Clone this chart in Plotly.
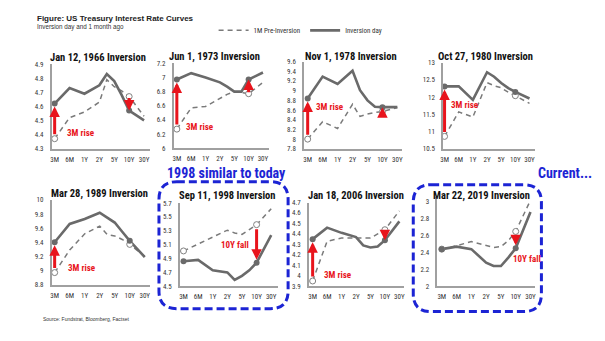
import plotly.graph_objects as go

W, H = 605, 341

# ---------------- data ----------------
TERMS = ["3M", "6M", "1Y", "2Y", "3Y", "5Y", "7Y", "10Y", "30Y"]
TERM_POS = [0, 1, 2, 3, 3.5, 4, 4.5, 5, 6]
TICK_TEXT = ["3M", "6M", "1Y", "2Y", "5Y", "10Y", "30Y"]
TICK_VALS = [0, 1, 2, 3, 4, 5, 6]

TITLES = ["Jan 12, 1966 Inversion", "Jun 1, 1973 Inversion", "Nov 1, 1978 Inversion",
          "Oct 27, 1980 Inversion", "Mar 28, 1989 Inversion", "Sep 11, 1998 Inversion",
          "Jan 18, 2006 Inversion", "Mar 22, 2019 Inversion"]

INV_1966 = [4.62, 4.73, 4.69, 4.75, 4.83, 4.78, 4.68, 4.57, 4.50]
PRE_1966 = [4.37, 4.52, 4.56, 4.63, 4.79, 4.74, 4.71, 4.67, 4.53]
INV_1973 = [6.97, 7.06, 7.00, 6.93, 6.87, 6.80, 6.80, 6.97, 7.07]
PRE_1973 = [6.27, 6.57, 6.59, 6.70, 6.76, 6.80, 6.78, 6.77, 6.93]
INV_1978 = [8.84, 9.29, 9.14, 9.41, 9.01, 8.80, 8.67, 8.66, 8.66]
PRE_1978 = [8.00, 8.36, 8.22, 8.72, 8.47, 8.52, 8.55, 8.57, 8.65]
INV_1980 = [12.31, 12.31, 11.92, 12.72, 12.59, 12.41, 12.26, 12.15, 11.96]
PRE_1980 = [10.86, 11.57, 11.42, 12.42, 12.33, 12.27, 12.14, 12.04, 11.82]
INV_1989 = [9.40, 9.66, 9.73, 9.82, 9.75, 9.68, 9.55, 9.42, 9.19]
PRE_1989 = [8.97, 9.29, 9.52, 9.63, 9.51, 9.49, 9.44, 9.37, 9.20]
INV_1998 = [4.86, 4.88, 4.73, 4.70, 4.59, 4.65, 4.73, 4.84, 5.24]
PRE_1998 = [5.01, 5.11, 5.20, 5.31, 5.27, 5.25, 5.32, 5.39, 5.62]
INV_2006 = [4.35, 4.46, 4.41, 4.37, 4.29, 4.27, 4.28, 4.34, 4.52]
PRE_2006 = [3.95, 4.33, 4.36, 4.36, 4.36, 4.36, 4.40, 4.44, 4.62]
INV_2019 = [2.44, 2.47, 2.44, 2.28, 2.24, 2.24, 2.34, 2.45, 2.88]
PRE_2019 = [2.44, 2.48, 2.53, 2.48, 2.46, 2.47, 2.54, 2.65, 3.02]

INV = [INV_1966, INV_1973, INV_1978, INV_1980, INV_1989, INV_1998, INV_2006, INV_2019]
PRE = [PRE_1966, PRE_1973, PRE_1978, PRE_1980, PRE_1989, PRE_1998, PRE_2006, PRE_2019]

Y_TICKS = [(4.3, 4.9, 0.1), (6.0, 7.2, 0.2), (7.8, 9.6, 0.2), (10.5, 13.0, 0.5),
           (8.8, 10.0, 0.2), (4.5, 5.7, 0.2), (3.9, 4.7, 0.1), (2.0, 3.0, 0.2)]
Y_TOP = [4.9, 7.2, 9.6, 13.0, 10.0, 5.7, 4.7, 3.06]

ARROW_TERMS = [["3M", "10Y"], ["3M", "10Y"], ["3M", "10Y"], ["3M", "10Y"],
               ["3M", "10Y"], ["10Y"], ["3M", "10Y"], ["10Y"]]
MARK_TERMS = ["3M", "10Y"]
ARROW_LABELS = ["3M rise", "3M rise", "3M rise", "3M rise", "3M rise",
                "10Y fall", "3M rise", "10Y fall"]

# ---------------- layout geometry (pixels) ----------------
GEOM = [
    dict(x0=52, x6=142, left=49, right=148, ylo_px=148, yhi_px=61.7),
    dict(x0=175, x6=261.7, left=171.7, right=268, ylo_px=147.7, yhi_px=60.7),
    dict(x0=306.7, x6=397, left=303, right=402, ylo_px=148.3, yhi_px=59),
    dict(x0=444.5, x6=530, left=443, right=536, ylo_px=148.3, yhi_px=60),
    dict(x0=52, x6=142.7, left=49, right=148, ylo_px=287.3, yhi_px=200.7),
    dict(x0=181.7, x6=270, left=178, right=277, ylo_px=289, yhi_px=204),
    dict(x0=311.7, x6=399, left=308, right=404, ylo_px=289, yhi_px=203.3),
    dict(x0=441.7, x6=531, left=437.3, right=536, ylo_px=289, yhi_px=202.7),
]
TITLE_POS = [(96, 55), (213, 54), (350, 54), (486, 54), (97.5, 194), (226, 196), (355, 196), (482, 196)]
LABEL_POS = [(0.67, 4.41, "left"), (0.48, 6.30, "left"), (0.42, 8.67, "left"), (0.28, 11.77, "left"),
             (0.73, 9.04, "left"), (4.65, 5.10, "right"), (0.64, 4.01, "left"), (4.68, 2.32, "left")]

NARROW = "Roboto Condensed, Liberation Sans Narrow, Arial Narrow, Liberation Sans, Arial, sans-serif"
ARIAL = "Liberation Sans, Arial, sans-serif"
RED = "#e8141c"
BLUE = "#1c24d4"
SOLID_C = "#6a6a6a"
DASH_C = "#7a7a7a"

fig = go.Figure()
layout = dict(width=W, height=H, margin=dict(l=0, r=0, t=0, b=0),
              paper_bgcolor="white", plot_bgcolor="white",
              font=dict(family=NARROW, color="#333"))
annotations = []
shapes = []

for i in range(8):
    n = i + 1
    xs = "" if n == 1 else str(n)
    xa, ya = "x" + xs, "y" + xs
    g = GEOM[i]
    lo, hi, dt = Y_TICKS[i]
    unit = (g["x6"] - g["x0"]) / 6.0
    xr = [(g["left"] - g["x0"]) / unit, (g["right"] - g["x0"]) / unit]
    ppu = (g["ylo_px"] - g["yhi_px"]) / (hi - lo)
    top_px = g["ylo_px"] - (Y_TOP[i] - lo) * ppu
    layout["xaxis" + xs] = dict(domain=[g["left"] / W, g["right"] / W], range=xr, anchor=ya,
                               tickvals=TICK_VALS, ticktext=TICK_TEXT, showline=True,
                               linecolor="#a0a0a0", linewidth=1.5, showgrid=False, zeroline=False,
                               ticks="", ticklabelstandoff=3, tickangle=0,
                               tickfont=dict(family=NARROW, size=7, color="#333"), fixedrange=True)
    layout["yaxis" + xs] = dict(domain=[1 - g["ylo_px"] / H, 1 - top_px / H], range=[lo, Y_TOP[i]],
                               anchor=xa, tick0=lo, dtick=dt, showline=True, linecolor="#a0a0a0",
                               linewidth=1.5, showgrid=False, zeroline=False, ticks="",
                               ticklabelstandoff=5,
                               tickfont=dict(family=NARROW, size=7, color="#333"), fixedrange=True)
    inv, pre = INV[i], PRE[i]
    fig.add_trace(go.Scatter(x=TERM_POS, y=pre, mode="lines", name="1M Pre-Inversion",
                             line=dict(color=DASH_C, width=1.5, dash="5px,4px"),
                             xaxis=xa, yaxis=ya, showlegend=(i == 0), legendgroup="pre"))
    fig.add_trace(go.Scatter(x=TERM_POS, y=inv, mode="lines", name="Inversion day",
                             line=dict(color=SOLID_C, width=2.6),
                             xaxis=xa, yaxis=ya, showlegend=(i == 0), legendgroup="inv"))
    idx = [TERMS.index(t) for t in MARK_TERMS]
    fig.add_trace(go.Scatter(x=[TERM_POS[j] for j in idx], y=[pre[j] for j in idx], mode="markers",
                             marker=dict(size=6, color="white", line=dict(color="#808080", width=1)),
                             xaxis=xa, yaxis=ya, showlegend=False, cliponaxis=False))
    fig.add_trace(go.Scatter(x=[TERM_POS[j] for j in idx], y=[inv[j] for j in idx], mode="markers",
                             marker=dict(size=6, color="#6a6a6a"),
                             xaxis=xa, yaxis=ya, showlegend=False, cliponaxis=False))
    for t in ARROW_TERMS[i]:
        j = TERMS.index(t)
        length = abs(inv[j] - pre[j]) * ppu
        so = 3 if length > 15 else 0
        annotations.append(dict(x=TERM_POS[j], y=inv[j], ax=TERM_POS[j], ay=pre[j],
                                xref=xa, yref=ya, axref=xa, ayref=ya, text="", showarrow=True,
                                arrowhead=2, arrowsize=0.7, arrowwidth=3, arrowcolor=RED,
                                standoff=so, startstandoff=so))
    lx, ly, anc = LABEL_POS[i]
    annotations.append(dict(x=lx, y=ly, xref=xa, yref=ya, text="<b>" + ARROW_LABELS[i] + "</b>",
                            showarrow=False, xanchor=anc, yanchor="middle",
                            font=dict(family=NARROW, size=9, color=RED)))
    tx, ty = TITLE_POS[i]
    annotations.append(dict(x=tx / W, y=1 - ty / H, xref="paper", yref="paper",
                            text="<b>" + TITLES[i] + "</b>", showarrow=False,
                            xanchor="center", yanchor="middle",
                            font=dict(family=NARROW, size=10.5, color="#111")))


def rrect(x0, y0, x1, y1, r):
    X = lambda p: p / W
    Y = lambda p: 1 - p / H
    return (f"M {X(x0 + r)},{Y(y0)} L {X(x1 - r)},{Y(y0)} Q {X(x1)},{Y(y0)} {X(x1)},{Y(y0 + r)} "
            f"L {X(x1)},{Y(y1 - r)} Q {X(x1)},{Y(y1)} {X(x1 - r)},{Y(y1)} "
            f"L {X(x0 + r)},{Y(y1)} Q {X(x0)},{Y(y1)} {X(x0)},{Y(y1 - r)} "
            f"L {X(x0)},{Y(y0 + r)} Q {X(x0)},{Y(y0)} {X(x0 + r)},{Y(y0)} Z")


for box in [(157, 182, 287, 312), (413, 185, 542, 315)]:
    shapes.append(dict(type="path", xref="paper", yref="paper", path=rrect(*box, 18),
                       line=dict(color=BLUE, width=3, dash="8px,4px")))

annotations += [
    dict(x=32 / W, y=1 - 15 / H, xref="paper", yref="paper", xanchor="left", yanchor="middle",
         showarrow=False, text="<b>Figure: US Treasury Interest Rate Curves</b>",
         font=dict(family=ARIAL, size=8, color="#222")),
    dict(x=32 / W, y=1 - 24 / H, xref="paper", yref="paper", xanchor="left", yanchor="middle",
         showarrow=False, text="Inversion day and 1 month ago",
         font=dict(family=ARIAL, size=6.3, color="#333")),
    dict(x=225 / W, y=1 - 173 / H, xref="paper", yref="paper", xanchor="center", yanchor="middle",
         showarrow=False, text="<b>1998 similar to today</b>",
         font=dict(family=NARROW, size=14, color=BLUE)),
    dict(x=537 / W, y=1 - 173 / H, xref="paper", yref="paper", xanchor="left", yanchor="middle",
         showarrow=False, text="<b>Current...</b>",
         font=dict(family=NARROW, size=14, color=BLUE)),
    dict(x=38 / W, y=1 - 323 / H, xref="paper", yref="paper", xanchor="left", yanchor="middle",
         showarrow=False, text="Source: Fundstrat, Bloomberg, Factset",
         font=dict(family=ARIAL, size=5, color="#333")),
]

layout["annotations"] = annotations
layout["shapes"] = shapes
layout["showlegend"] = True
layout["legend"] = dict(orientation="h", x=212 / W, y=1 - 27 / H, xanchor="left", yanchor="middle",
                        font=dict(family=NARROW, size=7, color="#333"), bgcolor="rgba(0,0,0,0)",
                        itemwidth=30, traceorder="normal", tracegroupgap=0)
fig.update_layout(**layout)
fig.write_html("out.html")
